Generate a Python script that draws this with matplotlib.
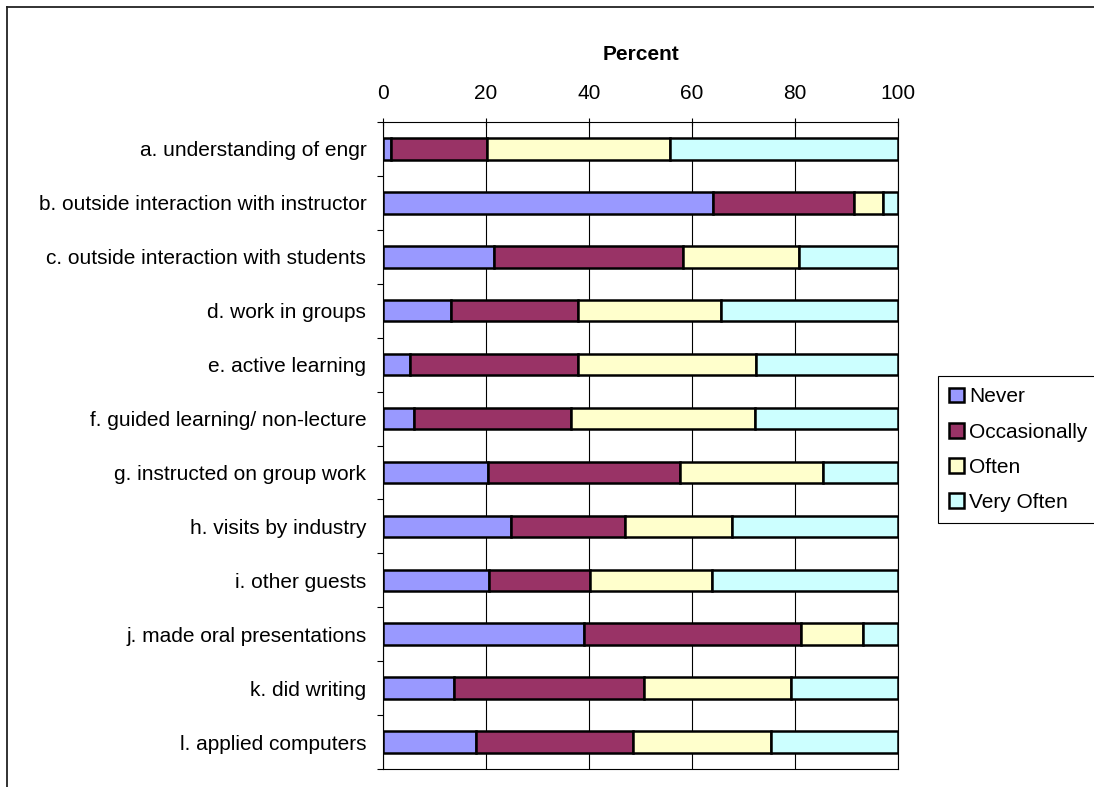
import numpy as np
import matplotlib
matplotlib.use("Agg")
import matplotlib.pyplot as plt
from matplotlib.lines import Line2D
from matplotlib.patches import Patch

plt.rcParams['font.family'] = ['Liberation Sans', 'DejaVu Sans']

# --- 1. Datos ---
categorias = [
    'a. understanding of engr',
    'b. outside interaction with instructor',
    'c. outside interaction with students',
    'd. work in groups',
    'e. active learning',
    'f. guided learning/ non-lecture',
    'g. instructed on group work',
    'h. visits by industry',
    'i. other guests',
    'j. made oral presentations',
    'k. did writing',
    'l. applied computers',
]
series = ['Never', 'Occasionally', 'Often', 'Very Often']
never = [1.5, 64.0, 21.5, 13.3, 5.2, 6.0, 20.3, 24.8, 20.5, 39.1, 13.7, 18.0]
occasionally = [18.6, 27.5, 36.8, 24.5, 32.6, 30.5, 37.4, 22.1, 19.6, 42.0, 36.9, 30.5]
often = [35.6, 5.6, 22.5, 27.8, 34.7, 35.7, 27.7, 20.8, 23.8, 12.2, 28.7, 26.9]
very_often = [44.3, 2.9, 19.2, 34.4, 27.5, 27.8, 14.6, 32.3, 36.1, 6.7, 20.7, 24.6]
x_ticks = [0, 20, 40, 60, 80, 100]

colores = ['#9999FF', '#993366', '#FFFFCC', '#CCFFFF']

# --- 2. Figura ---
fig = plt.figure(figsize=(10.94, 7.87), dpi=100)
ax = fig.add_axes([383 / 1094, 1 - 769 / 787, (898 - 383) / 1094, (769 - 122) / 787])

y = np.arange(len(categorias))
izquierda = np.zeros(len(categorias))
for nombre, valores, color in zip(series, [never, occasionally, often, very_often], colores):
    ax.barh(y, valores, left=izquierda, height=0.4, color=color,
            edgecolor='black', linewidth=1.8, label=nombre, zorder=3)
    izquierda += np.array(valores)

ax.set_xlim(0, 100)
ax.set_ylim(len(categorias) - 0.5, -0.5)

# eje x arriba
ax.xaxis.tick_top()
ax.xaxis.set_label_position('top')
ax.set_xticks(x_ticks)
ax.tick_params(axis='x', direction='inout', length=6, width=0.8, labelsize=15, pad=11)
ax.set_xlabel('Percent', fontsize=15, fontweight='bold', labelpad=17)
ax.grid(axis='x', color='black', linewidth=0.8, zorder=0)
ax.set_axisbelow(True)

# etiquetas de categorias y marcas entre categorias
ax.set_yticks(y)
ax.set_yticklabels(categorias, fontsize=15)
ax.tick_params(axis='y', which='major', length=0, pad=12)
ax.set_yticks(np.arange(len(categorias) + 1) - 0.5, minor=True)
ax.tick_params(axis='y', which='minor', direction='out', length=4.5, width=0.8)

for lado in ['left', 'top', 'bottom', 'right']:
    ax.spines[lado].set_linewidth(0.8)
    ax.spines[lado].set_color('black')

# --- 3. Leyenda ---
manejadores = [Patch(facecolor=c, edgecolor='black', linewidth=1.8) for c in colores]
leg = fig.legend(manejadores, series, loc='upper left',
                 bbox_to_anchor=(938 / 1094, 1 - 376 / 787), borderaxespad=0,
                 fontsize=15, handlelength=0.7, handleheight=0.7,
                 handletextpad=0.25, labelspacing=0.77, borderpad=0.55,
                 fancybox=False, edgecolor='black', framealpha=1)
leg.get_frame().set_linewidth(0.8)

# --- 4. Borde del area del grafico ---
fig.add_artist(Line2D([7 / 1094, 7 / 1094], [0, 1 - 7 / 787], color='#222222', linewidth=1.3))
fig.add_artist(Line2D([7 / 1094, 1], [1 - 7 / 787, 1 - 7 / 787], color='#222222', linewidth=1.3))

plt.savefig('out.png', dpi=100)
